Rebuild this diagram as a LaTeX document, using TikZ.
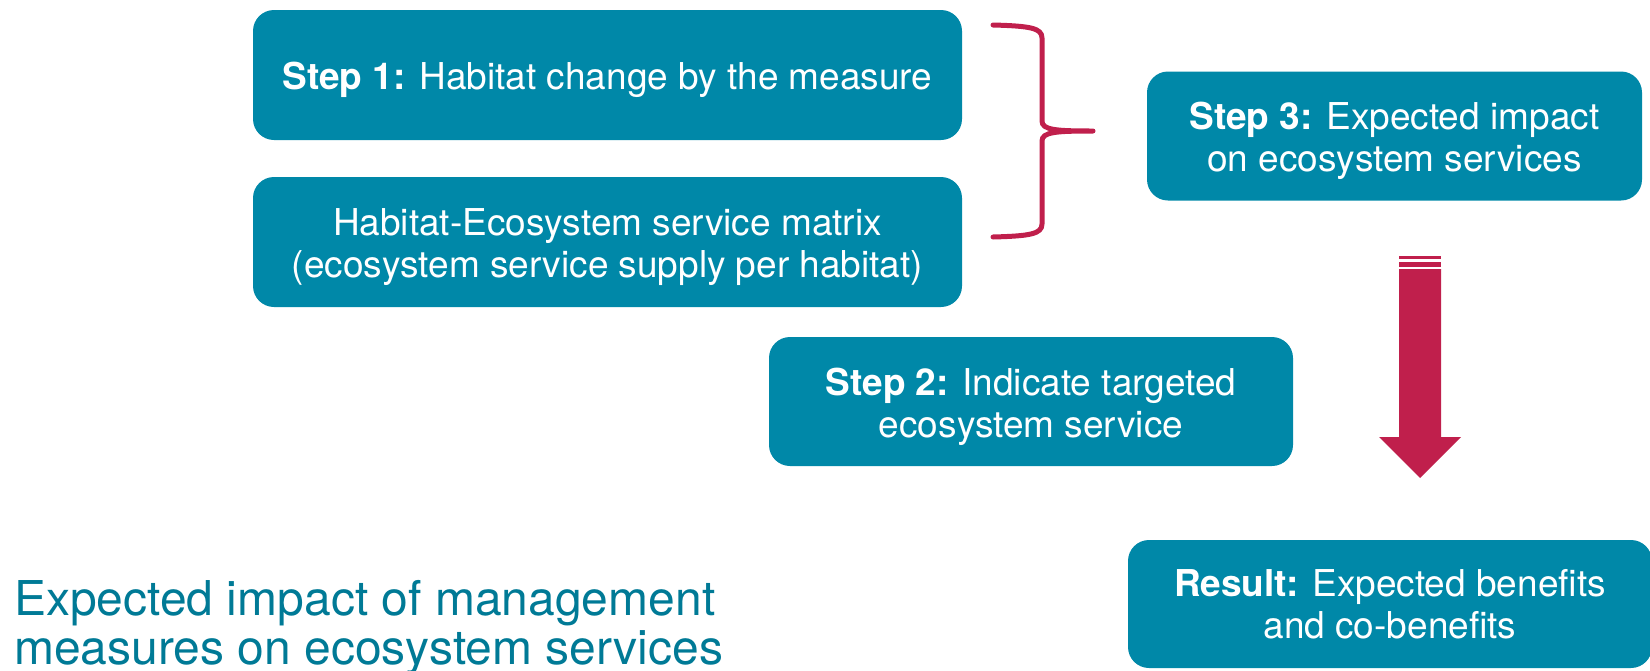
\documentclass[tikz,border=0pt]{standalone}
\usepackage{fontspec}
\setmainfont{TeX Gyre Heros}
\definecolor{boxteal}{RGB}{0,136,168}
\definecolor{capteal}{RGB}{0,122,150}
\definecolor{bracered}{RGB}{192,31,76}
\newcommand{\stepstrut}{\rule{0pt}{38pt}}
\tikzset{
  stepbox/.style={fill=boxteal, text=white, rounded corners=21pt, inner sep=0pt,
    align=center, font=\fontsize{37}{42}\selectfont}
}
\begin{document}
\begin{tikzpicture}[x=1pt,y=-1pt]
   \useasboundingbox (0,0) rectangle (1650,670);

   \node[stepbox, minimum width=709pt, minimum height=130pt] (s1) at (607.5,75) {\stepstrut\textbf{Step 1:} Habitat change by the measure};
   \node[stepbox, minimum width=709pt, minimum height=130pt] (mx) at (607.5,242) {\stepstrut Habitat-Ecosystem service matrix\\(ecosystem service supply per habitat)};
   \node[stepbox, minimum width=495pt, minimum height=129pt] (s3) at (1394.5,136) {\stepstrut\textbf{Step 3:} Expected impact\\on ecosystem services};
   \node[stepbox, minimum width=524pt, minimum height=129pt] (s2) at (1031,401.5) {\stepstrut\textbf{Step 2:} Indicate targeted\\ecosystem service};
   \node[stepbox, minimum width=524pt, minimum height=128pt] (res) at (1390,604) {\textbf{Result:} Expected benefits\\and co-benefits};

   \node[anchor=north west, inner sep=0pt, align=left, text=capteal,
     font=\fontsize{48}{49}\selectfont] (cap) at (14,580)
     {Expected impact of management\\measures on ecosystem services};

   % brace joining step 1 and the matrix
   \draw[bracered, line width=5pt, line cap=round, line join=round]
     (993,25) .. controls (1030,26) and (1042,28) .. (1042,38) -- (1042,121)
     .. controls (1042,130) and (1056,131) .. (1093,131)
     .. controls (1056,131) and (1042,132) .. (1042,141) -- (1042,224)
     .. controls (1042,234) and (1030,236) .. (993,237);

   % block arrow from step 3 down to the result
   \fill[bracered] (1399,256) rectangle (1441,259);
   \fill[bracered] (1399,262) rectangle (1441,267);
   \fill[bracered] (1399,269) -- (1441,269) -- (1441,437) -- (1461,437)
     -- (1420,478) -- (1379,437) -- (1399,437) -- cycle;
\end{tikzpicture}
\end{document}
